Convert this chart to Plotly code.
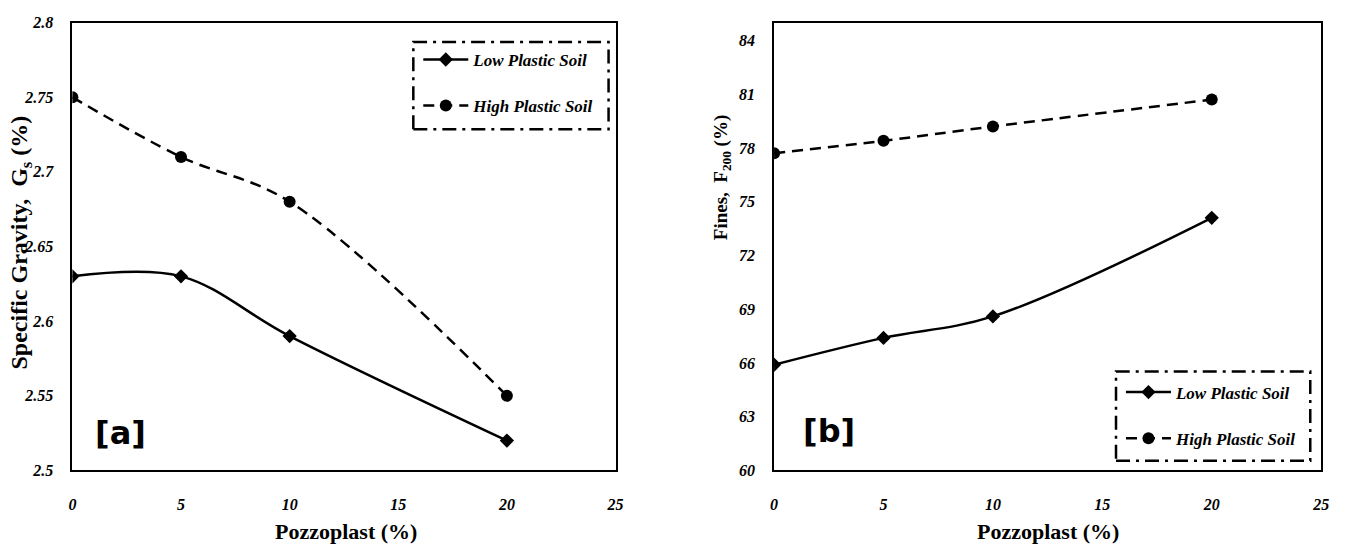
import plotly.graph_objects as go

# ---------------- data ----------------
pozzoplast = [0, 5, 10, 20]
gs_low = [2.63, 2.63, 2.59, 2.52]
gs_high = [2.75, 2.71, 2.68, 2.55]
fines_low = [65.9, 67.4, 68.6, 74.1]
fines_high = [77.7, 78.4, 79.2, 80.7]

x_ticks = [0, 5, 10, 15, 20, 25]
gs_ticks = [2.5, 2.55, 2.6, 2.65, 2.7, 2.75, 2.8]
gs_tick_text = ["2.5", "2.55", "2.6", "2.65", "2.7", "2.75", "2.8"]
fines_ticks = [60, 63, 66, 69, 72, 75, 78, 81, 84]

series_names = ["Low Plastic Soil", "High Plastic Soil"]

W, H = 1348, 558
SERIF = "Liberation Serif"


def px(x):
    return x / W


def py(y):
    return 1 - y / H


fig = go.Figure()

low_style = dict(mode="lines+markers", line=dict(color="black", width=2.5, shape="spline"),
                 marker=dict(symbol="diamond", size=11, color="black"))
high_style = dict(mode="lines+markers", line=dict(color="black", width=2.5, shape="spline", dash="11px,7px"),
                  marker=dict(symbol="circle", size=12, color="black"))

fig.add_trace(go.Scatter(x=pozzoplast, y=gs_low, name=series_names[0], xaxis="x", yaxis="y",
                         legend="legend", legendgroup="a1", **low_style))
fig.add_trace(go.Scatter(x=pozzoplast, y=gs_high, name=series_names[1], xaxis="x", yaxis="y",
                         legend="legend", legendgroup="a2", **high_style))
fig.add_trace(go.Scatter(x=pozzoplast, y=fines_low, name=series_names[0], xaxis="x2", yaxis="y2",
                         legend="legend2", legendgroup="b1", **low_style))
fig.add_trace(go.Scatter(x=pozzoplast, y=fines_high, name=series_names[1], xaxis="x2", yaxis="y2",
                         legend="legend2", legendgroup="b2", **high_style))

tickfont = dict(family=SERIF, size=16, color="black", style="italic", weight="bold")
axis_common = dict(showline=True, linecolor="black", linewidth=2, mirror=True, showgrid=False,
                   zeroline=False, ticks="", tickfont=tickfont)

legend_common = dict(font=dict(family=SERIF, size=17, color="black", style="italic", weight="bold"),
                     bgcolor="rgba(0,0,0,0)", borderwidth=0, itemwidth=45, tracegroupgap=21,
                     xanchor="left", yanchor="top", itemclick=False)

fig.update_layout(
    width=W, height=H,
    margin=dict(l=0, r=0, t=0, b=0),
    paper_bgcolor="white", plot_bgcolor="white",
    showlegend=True,
    xaxis=dict(domain=[px(69), px(617)], range=[0, 25], tickvals=x_ticks, anchor="y",
               ticklabelstandoff=18, **axis_common),
    yaxis=dict(domain=[py(477), py(15)], range=[2.5, 2.8], tickvals=gs_ticks, ticktext=gs_tick_text,
               anchor="x", ticklabelstandoff=14, **axis_common),
    xaxis2=dict(domain=[px(777), px(1329)], range=[0, 25], tickvals=x_ticks, anchor="y2",
                ticklabelstandoff=18, **axis_common),
    yaxis2=dict(domain=[py(477), py(15)], range=[60, 85], tickvals=fines_ticks, anchor="x2",
                ticklabelstandoff=14, **axis_common),
    legend=dict(x=px(418), y=py(35), **legend_common),
    legend2=dict(x=px(1127), y=py(378), **legend_common),
)

# dash-dot legend frames
for (x0, y0, x1, y1) in [(413, 35, 610, 125), (1122, 375, 1318, 467)]:
    fig.add_shape(type="rect", xref="paper", yref="paper", x0=px(x0), x1=px(x1), y0=py(y1), y1=py(y0),
                  line=dict(color="black", width=2.5, dash="14px,6px,3px,6px"), fillcolor="rgba(0,0,0,0)")

# axis titles
fig.add_annotation(text="Pozzoplast (%)", xref="paper", yref="paper", x=px(345), y=py(540),
                   xanchor="center", yanchor="middle", showarrow=False,
                   font=dict(family=SERIF, size=22, color="black", weight="bold"))
fig.add_annotation(text="Pozzoplast (%)", xref="paper", yref="paper", x=px(1053), y=py(540),
                   xanchor="center", yanchor="middle", showarrow=False,
                   font=dict(family=SERIF, size=22, color="black", weight="bold"))
fig.add_annotation(text="Specific Gravity,  G<sub>s</sub> (%)", xref="paper", yref="paper",
                   x=px(17), y=py(242), xanchor="center", yanchor="middle", textangle=-90, showarrow=False,
                   font=dict(family=SERIF, size=24, color="black", weight="bold"))
fig.add_annotation(text="Fines,  F<sub>200</sub> (%)", xref="paper", yref="paper",
                   x=px(724), y=py(175), xanchor="center", yanchor="middle", textangle=-90, showarrow=False,
                   font=dict(family=SERIF, size=19, color="black", weight="bold"))

# panel labels
fig.add_annotation(text="[a]", xref="x", yref="y", x=2.2, y=2.525, showarrow=False,
                   font=dict(family="DejaVu Sans", size=32, color="black", weight="bold"))
fig.add_annotation(text="[b]", xref="x2", yref="y2", x=2.5, y=62.2, showarrow=False,
                   font=dict(family="DejaVu Sans", size=32, color="black", weight="bold"))

fig.write_html("out.html")
